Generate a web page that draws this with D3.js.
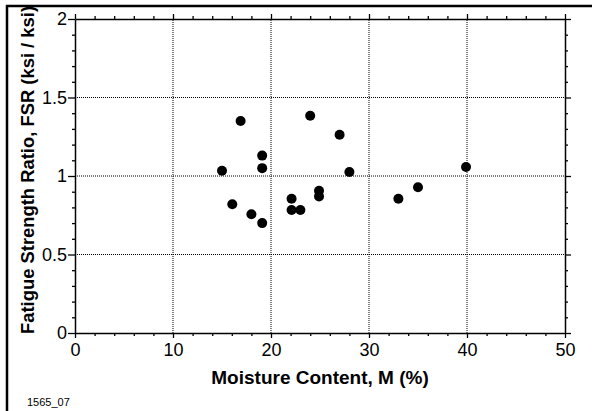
<!DOCTYPE html>
<html><head><meta charset="utf-8">
<script src="https://cdn.jsdelivr.net/npm/d3@7"></script>
<style>body{margin:0;background:#fff}svg{display:block}</style>
</head><body>
<script>
const moisture = [15.0, 16.9, 19.1, 19.1, 16.05, 18.0, 19.1, 24.0, 27.0, 28.0, 22.1, 22.1, 23.0, 24.9, 24.9, 33.0, 35.0, 39.9];
const fsr =      [1.034, 1.35, 1.13, 1.05, 0.82, 0.756, 0.70, 1.384, 1.263, 1.025, 0.855, 0.783, 0.783, 0.906, 0.87, 0.855, 0.928, 1.057];
const xTicks = [0, 10, 20, 30, 40, 50];
const yTicks = [0, 0.5, 1, 1.5, 2];
const xTickLabels = ["0", "10", "20", "30", "40", "50"];
const yTickLabels = ["0", "0.5", "1", "1.5", "2"];
const xLabel = "Moisture Content, M (%)";
const yLabel = "Fatigue Strength Ratio, FSR (ksi / ksi)";
const note = "1565_07";

const W = 592, H = 411;
const svg = d3.select("body").append("svg").attr("width", W).attr("height", H);
const font = "Liberation Sans, Arial, sans-serif";

// frame
svg.append("line").attr("x1", 7).attr("x2", 7).attr("y1", 5).attr("y2", H).attr("stroke", "#000").attr("stroke-width", 2.5);
svg.append("line").attr("x1", 6).attr("x2", W).attr("y1", 6).attr("y2", 6).attr("stroke", "#000").attr("stroke-width", 2.5);

const x = d3.scaleLinear().domain([0, 50]).range([75, 565]);
const y = d3.scaleLinear().domain([0, 2]).range([333, 19]);

// grid
const g = svg.append("g");
g.selectAll(".vg").data(xTicks.slice(1, -1)).join("line")
  .attr("x1", d => x(d)).attr("x2", d => x(d)).attr("y1", y(0)).attr("y2", y(2))
  .attr("stroke", "#000").attr("stroke-width", 1).attr("stroke-dasharray", "1,1");
g.selectAll(".hg").data(yTicks.slice(1, -1)).join("line")
  .attr("x1", x(0)).attr("x2", x(50)).attr("y1", d => y(d)).attr("y2", d => y(d))
  .attr("stroke", "#000").attr("stroke-width", 1).attr("stroke-dasharray", "1,1");

const xMinor = d3.range(0, 50.01, 2).filter(v => v % 10 !== 0);
const yMinor = d3.range(0, 20.01, 1).map(v => v / 10).filter(v => Math.round(v * 10) % 5 !== 0);

function styleAxis(sel) {
  sel.selectAll("path").attr("stroke", "#000").attr("stroke-width", 1.5);
  sel.selectAll("line").attr("stroke", "#000").attr("stroke-width", 1.3);
  sel.selectAll("text").attr("font-family", font).attr("font-size", 18).attr("fill", "#000");
}

// bottom
const xb = svg.append("g").attr("transform", `translate(0,${y(0)})`)
  .call(d3.axisBottom(x).tickValues(xTicks).tickFormat((d, i) => xTickLabels[i]).tickSize(5).tickPadding(5).tickSizeOuter(0));
styleAxis(xb);
svg.append("g").attr("transform", `translate(0,${y(0)})`)
  .call(d3.axisBottom(x).tickValues(xMinor).tickFormat("").tickSize(3).tickSizeOuter(0)).call(s => { s.select("path").remove(); styleAxis(s); });
// top
const xt = svg.append("g").attr("transform", `translate(0,${y(2)})`)
  .call(d3.axisTop(x).tickValues(xTicks).tickFormat("").tickSize(5).tickSizeOuter(0));
styleAxis(xt);
svg.append("g").attr("transform", `translate(0,${y(2)})`)
  .call(d3.axisTop(x).tickValues(xMinor).tickFormat("").tickSize(3).tickSizeOuter(0)).call(s => { s.select("path").remove(); styleAxis(s); });
// left
const yl = svg.append("g").attr("transform", `translate(${x(0)},0)`)
  .call(d3.axisLeft(y).tickValues(yTicks).tickFormat((d, i) => yTickLabels[i]).tickSize(7).tickPadding(1).tickSizeOuter(0));
styleAxis(yl);
svg.append("g").attr("transform", `translate(${x(0)},0)`)
  .call(d3.axisLeft(y).tickValues(yMinor).tickFormat("").tickSize(3).tickSizeOuter(0)).call(s => { s.select("path").remove(); styleAxis(s); });
// right
const yr = svg.append("g").attr("transform", `translate(${x(50)},0)`)
  .call(d3.axisRight(y).tickValues(yTicks).tickFormat("").tickSize(6).tickSizeOuter(0));
styleAxis(yr);
svg.append("g").attr("transform", `translate(${x(50)},0)`)
  .call(d3.axisRight(y).tickValues(yMinor).tickFormat("").tickSize(3).tickSizeOuter(0)).call(s => { s.select("path").remove(); styleAxis(s); });

// points
svg.append("g").selectAll("circle").data(moisture.map((m, i) => [m, fsr[i]])).join("circle")
  .attr("cx", d => x(d[0])).attr("cy", d => y(d[1])).attr("r", 5).attr("fill", "#000");

// labels
svg.append("text").attr("x", 320).attr("y", 384).attr("text-anchor", "middle")
  .attr("font-family", font).attr("font-weight", "bold").attr("font-size", 19).text(xLabel);
svg.append("text").attr("transform", `translate(34,170) rotate(-90)`).attr("text-anchor", "middle")
  .attr("font-family", font).attr("font-weight", "bold").attr("font-size", 18.4).text(yLabel);
svg.append("text").attr("x", 27).attr("y", 406).attr("font-family", font).attr("font-size", 11).text(note);
</script>
</body></html>
